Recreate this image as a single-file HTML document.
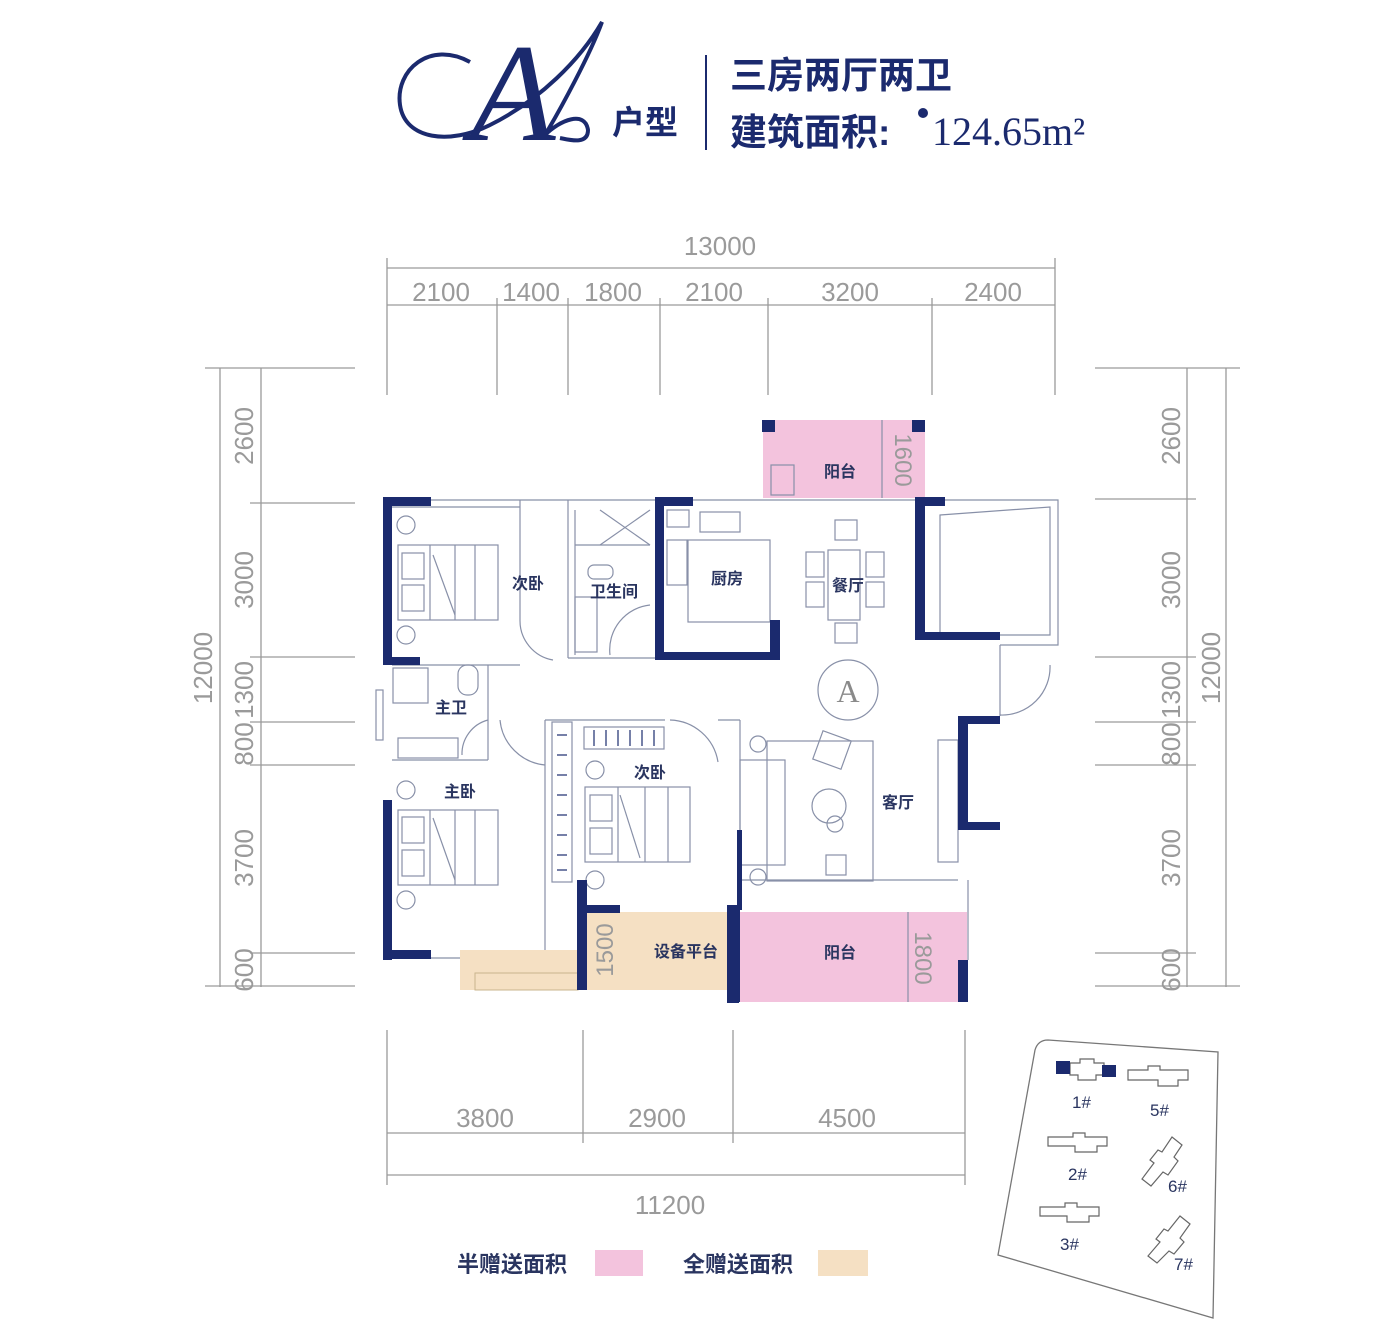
<!DOCTYPE html>
<html><head><meta charset="utf-8"><style>
html,body{margin:0;padding:0;background:#fff;}
svg{display:block;}
.d{font-family:"Liberation Sans Narrow","Liberation Sans",sans-serif;fill:#9a9a9a;font-size:26px;}
.r{font-family:"Liberation Sans","Noto Sans CJK SC",sans-serif;fill:#2a3560;font-size:16px;font-weight:bold;}
.n{fill:#1b2a6e;}
.g{stroke:#9a9a9a;stroke-width:1.3;fill:none;}
.f{stroke:#8890a8;stroke-width:1.2;fill:none;}
</style></head><body>
<svg width="1400" height="1336" viewBox="0 0 1400 1336" xmlns="http://www.w3.org/2000/svg">
<!-- Header -->
<path d="M470 62 C430 40 395 70 400 105 C405 140 450 145 490 125 C540 100 580 60 602 22 C590 55 560 110 545 135 C560 120 585 110 588 130 C588 145 570 140 560 138" fill="none" stroke="#1b2a6e" stroke-width="4"/>
<text x="470" y="140" font-family="Liberation Serif,serif" font-style="italic" font-size="140" fill="#1b2a6e">A</text>
<text x="612" y="134" font-family="'Liberation Sans','Noto Sans CJK SC',sans-serif" font-size="33" font-weight="bold" fill="#1b2a6e">户型</text>
<line x1="706" y1="55" x2="706" y2="150" stroke="#1b2a6e" stroke-width="2"/>
<text x="730" y="88" font-family="'Liberation Sans','Noto Sans CJK SC',sans-serif" font-size="37" font-weight="bold" fill="#1b2a6e">三房两厅两卫</text>
<text x="730" y="145" font-family="'Liberation Sans','Noto Sans CJK SC',sans-serif" font-size="37" font-weight="bold" fill="#1b2a6e">建筑面积:</text>
<circle cx="923" cy="113" r="5" fill="#1b2a6e"/>
<text x="932" y="145" font-family="'Liberation Serif',serif" font-size="40" fill="#1b2a6e">124.65m²</text>

<!-- top dims -->
<g class="g">
<line x1="387" y1="268" x2="1055" y2="268"/>
<line x1="387" y1="305" x2="1055" y2="305"/>
<line x1="387" y1="258" x2="387" y2="395"/>
<line x1="1055" y1="258" x2="1055" y2="395"/>
<line x1="497" y1="298" x2="497" y2="395"/>
<line x1="568" y1="298" x2="568" y2="395"/>
<line x1="660" y1="298" x2="660" y2="395"/>
<line x1="768" y1="298" x2="768" y2="395"/>
<line x1="932" y1="298" x2="932" y2="395"/>
<line x1="220" y1="368" x2="220" y2="987"/>
<line x1="261" y1="368" x2="261" y2="987"/>
<line x1="205" y1="368" x2="355" y2="368"/>
<line x1="250" y1="503" x2="355" y2="503"/>
<line x1="250" y1="657" x2="355" y2="657"/>
<line x1="250" y1="722" x2="355" y2="722"/>
<line x1="250" y1="765" x2="355" y2="765"/>
<line x1="250" y1="953" x2="355" y2="953"/>
<line x1="205" y1="986" x2="355" y2="986"/>
<line x1="1187" y1="368" x2="1187" y2="987"/>
<line x1="1226" y1="368" x2="1226" y2="987"/>
<line x1="1095" y1="368" x2="1240" y2="368"/>
<line x1="1095" y1="499" x2="1196" y2="499"/>
<line x1="1095" y1="657" x2="1196" y2="657"/>
<line x1="1095" y1="722" x2="1196" y2="722"/>
<line x1="1095" y1="765" x2="1196" y2="765"/>
<line x1="1095" y1="953" x2="1196" y2="953"/>
<line x1="1095" y1="986" x2="1240" y2="986"/>
<line x1="387" y1="1133" x2="965" y2="1133"/>
<line x1="387" y1="1175" x2="965" y2="1175"/>
<line x1="387" y1="1030" x2="387" y2="1185"/>
<line x1="583" y1="1030" x2="583" y2="1143"/>
<line x1="733" y1="1030" x2="733" y2="1143"/>
<line x1="965" y1="1030" x2="965" y2="1185"/>
</g>
<g class="d">
<text x="720" y="255" text-anchor="middle">13000</text>
<text x="441" y="301" text-anchor="middle">2100</text>
<text x="531" y="301" text-anchor="middle">1400</text>
<text x="613" y="301" text-anchor="middle">1800</text>
<text x="714" y="301" text-anchor="middle">2100</text>
<text x="850" y="301" text-anchor="middle">3200</text>
<text x="993" y="301" text-anchor="middle">2400</text>
<text x="485" y="1127" text-anchor="middle">3800</text>
<text x="657" y="1127" text-anchor="middle">2900</text>
<text x="847" y="1127" text-anchor="middle">4500</text>
<text x="670" y="1214" text-anchor="middle">11200</text>
<g transform="translate(253,0)">
<text transform="translate(0,436) rotate(-90)" text-anchor="middle">2600</text>
<text transform="translate(0,580) rotate(-90)" text-anchor="middle">3000</text>
<text transform="translate(0,690) rotate(-90)" text-anchor="middle">1300</text>
<text transform="translate(0,744) rotate(-90)" text-anchor="middle">800</text>
<text transform="translate(0,858) rotate(-90)" text-anchor="middle">3700</text>
<text transform="translate(0,970) rotate(-90)" text-anchor="middle">600</text>
</g>
<text transform="translate(212,668) rotate(-90)" text-anchor="middle">12000</text>
<g transform="translate(1180,0)">
<text transform="translate(0,436) rotate(-90)" text-anchor="middle">2600</text>
<text transform="translate(0,580) rotate(-90)" text-anchor="middle">3000</text>
<text transform="translate(0,690) rotate(-90)" text-anchor="middle">1300</text>
<text transform="translate(0,744) rotate(-90)" text-anchor="middle">800</text>
<text transform="translate(0,858) rotate(-90)" text-anchor="middle">3700</text>
<text transform="translate(0,970) rotate(-90)" text-anchor="middle">600</text>
</g>
<text transform="translate(1220,668) rotate(-90)" text-anchor="middle">12000</text>
</g>

<rect x="763" y="420" width="162" height="78" fill="#f3c3dd"/>
<rect x="727" y="912" width="240" height="90" fill="#f3c3dd"/>
<rect x="587" y="912" width="140" height="78" fill="#f5e0c3"/>
<rect x="460" y="950" width="118" height="40" fill="#f5e0c3"/>
<rect x="475" y="973" width="103" height="17" fill="none" stroke="#c9b58e"/>

<g class="f">
<polyline points="430,500 915,500"/>
<polyline points="945,500 1058,500 1058,645 1000,645"/>
<line x1="392" y1="507" x2="520" y2="507"/>
<line x1="520" y1="500" x2="520" y2="620"/>
<line x1="568" y1="500" x2="568" y2="658"/>
<line x1="568" y1="658" x2="655" y2="658"/>
<line x1="575" y1="510" x2="575" y2="655"/>
<line x1="575" y1="545" x2="650" y2="545"/>
<line x1="600" y1="510" x2="650" y2="545"/><line x1="650" y1="510" x2="600" y2="545"/>
<line x1="392" y1="665" x2="520" y2="665"/>
<line x1="488" y1="665" x2="488" y2="760"/>
<line x1="392" y1="760" x2="488" y2="760"/>
<line x1="545" y1="720" x2="545" y2="950"/>
<line x1="545" y1="720" x2="665" y2="720"/>
<line x1="718" y1="720" x2="740" y2="720"/>
<line x1="740" y1="720" x2="740" y2="830"/>
<line x1="740" y1="880" x2="958" y2="880"/>
<line x1="968" y1="880" x2="968" y2="960"/>
<line x1="1000" y1="645" x2="1000" y2="716"/>
<line x1="392" y1="958" x2="460" y2="958"/>
<rect x="376" y="690" width="7" height="50"/>
<path d="M520 620 A40 40 0 0 0 553 660"/>
<path d="M650 605 A45 45 0 0 0 610 655"/>
<path d="M488 720 A35 35 0 0 0 462 755"/>
<path d="M500 720 A50 50 0 0 0 545 765"/>
<path d="M670 720 A50 50 0 0 1 718 762"/>
<path d="M1050 665 A48 48 0 0 1 1000 715"/>
<rect x="398" y="545" width="100" height="75"/>
<line x1="430" y1="545" x2="430" y2="620"/><line x1="455" y1="545" x2="455" y2="620"/><line x1="475" y1="545" x2="475" y2="620"/>
<line x1="433" y1="555" x2="455" y2="615"/>
<rect x="402" y="553" width="22" height="26"/><rect x="402" y="585" width="22" height="26"/>
<circle cx="406" cy="525" r="9"/><circle cx="406" cy="635" r="9"/>
<rect x="398" y="810" width="100" height="75"/>
<line x1="430" y1="810" x2="430" y2="885"/><line x1="455" y1="810" x2="455" y2="885"/><line x1="475" y1="810" x2="475" y2="885"/>
<line x1="433" y1="818" x2="455" y2="880"/>
<rect x="402" y="817" width="22" height="26"/><rect x="402" y="850" width="22" height="26"/>
<circle cx="406" cy="790" r="9"/><circle cx="406" cy="900" r="9"/>
<rect x="585" y="787" width="105" height="75"/>
<line x1="618" y1="787" x2="618" y2="862"/><line x1="645" y1="787" x2="645" y2="862"/><line x1="668" y1="787" x2="668" y2="862"/>
<line x1="620" y1="795" x2="640" y2="858"/>
<rect x="590" y="795" width="22" height="26"/><rect x="590" y="828" width="22" height="26"/>
<circle cx="595" cy="770" r="9"/><circle cx="595" cy="880" r="9"/>
<rect x="552" y="722" width="20" height="160"/>
<rect x="584" y="727" width="80" height="22"/>
<rect x="393" y="668" width="35" height="35"/>
<rect x="458" y="665" width="20" height="30" rx="9"/>
<rect x="398" y="738" width="60" height="20"/>
<rect x="588" y="565" width="25" height="14" rx="6"/>
<rect x="575" y="597" width="22" height="55"/>
<rect x="667" y="510" width="22" height="17"/>
<rect x="700" y="512" width="40" height="20"/>
<rect x="667" y="540" width="20" height="45"/>
<rect x="688" y="540" width="82" height="82"/>
<rect x="828" y="550" width="32" height="70"/>
<rect x="835" y="520" width="22" height="20"/><rect x="835" y="623" width="22" height="20"/>
<rect x="806" y="552" width="18" height="25"/><rect x="806" y="582" width="18" height="25"/>
<rect x="866" y="552" width="18" height="25"/><rect x="866" y="582" width="18" height="25"/>
<path d="M940 515 L1050 507 L1050 635 L940 635 Z"/>
<circle cx="848" cy="690" r="30"/>
<rect x="767" y="741" width="106" height="140"/>
<rect x="740" y="760" width="45" height="105"/>
<rect x="817" y="735" width="30" height="30" transform="rotate(20 832 750)"/>
<circle cx="829" cy="806" r="17"/><circle cx="835" cy="824" r="8"/>
<rect x="826" y="855" width="20" height="20"/>
<circle cx="758" cy="744" r="8"/><circle cx="758" cy="877" r="8"/>
<rect x="938" y="740" width="20" height="122"/>
<rect x="771" y="465" width="23" height="30"/>
<line x1="882" y1="420" x2="882" y2="498"/>
<line x1="908" y1="912" x2="908" y2="1002"/>
</g>
<g stroke="#1b2a6e" stroke-width="1.2">
<line x1="557" y1="735" x2="567" y2="735"/><line x1="557" y1="755" x2="567" y2="755"/><line x1="557" y1="775" x2="567" y2="775"/><line x1="557" y1="795" x2="567" y2="795"/><line x1="557" y1="815" x2="567" y2="815"/><line x1="557" y1="835" x2="567" y2="835"/><line x1="557" y1="855" x2="567" y2="855"/><line x1="557" y1="870" x2="567" y2="870"/>
<line x1="594" y1="730" x2="594" y2="746"/><line x1="606" y1="730" x2="606" y2="746"/><line x1="618" y1="730" x2="618" y2="746"/><line x1="630" y1="730" x2="630" y2="746"/><line x1="642" y1="730" x2="642" y2="746"/><line x1="654" y1="730" x2="654" y2="746"/>
</g>

<g class="n">
<rect x="383" y="497" width="9" height="168"/><rect x="383" y="497" width="48" height="9"/><rect x="383" y="657" width="37" height="8"/>
<rect x="383" y="800" width="9" height="160"/><rect x="383" y="950" width="48" height="9"/>
<rect x="655" y="497" width="9" height="163"/><rect x="655" y="497" width="38" height="9"/><rect x="655" y="652" width="125" height="8"/><rect x="770" y="620" width="10" height="40"/>
<rect x="915" y="497" width="10" height="143"/><rect x="915" y="497" width="30" height="9"/><rect x="915" y="632" width="85" height="8"/>
<rect x="958" y="716" width="10" height="114"/><rect x="958" y="716" width="42" height="8"/><rect x="958" y="822" width="42" height="8"/>
<rect x="577" y="880" width="10" height="110"/><rect x="577" y="905" width="43" height="8"/>
<rect x="727" y="905" width="13" height="97"/><rect x="737" y="830" width="5" height="80"/><rect x="727" y="995" width="12" height="8"/>
<rect x="958" y="960" width="10" height="42"/>
<rect x="762" y="420" width="13" height="12"/><rect x="912" y="420" width="13" height="12"/>
</g>

<g class="r">
<text x="528" y="589" text-anchor="middle">次卧</text>
<text x="614" y="597" text-anchor="middle">卫生间</text>
<text x="727" y="584" text-anchor="middle">厨房</text>
<text x="848" y="591" text-anchor="middle">餐厅</text>
<text x="451" y="713" text-anchor="middle">主卫</text>
<text x="460" y="797" text-anchor="middle">主卧</text>
<text x="650" y="778" text-anchor="middle">次卧</text>
<text x="898" y="808" text-anchor="middle">客厅</text>
<text x="840" y="477" text-anchor="middle">阳台</text>
<text x="840" y="958" text-anchor="middle">阳台</text>
<text x="686" y="957" text-anchor="middle">设备平台</text>
</g>
<text x="848" y="702" text-anchor="middle" font-family="Liberation Serif,serif" font-size="32" fill="#8a8a8a">A</text>
<g class="d" style="font-size:24px">
<text transform="translate(895,460) rotate(90)" text-anchor="middle">1600</text>
<text transform="translate(613,950) rotate(-90)" text-anchor="middle">1500</text>
<text transform="translate(915,958) rotate(90)" text-anchor="middle">1800</text>
</g>

<text x="457" y="1272" font-family="'Liberation Sans','Noto Sans CJK SC',sans-serif" font-size="22" font-weight="bold" fill="#2a3560">半赠送面积</text>
<rect x="595" y="1250" width="48" height="26" fill="#f3c3dd"/>
<text x="683" y="1272" font-family="'Liberation Sans','Noto Sans CJK SC',sans-serif" font-size="22" font-weight="bold" fill="#2a3560">全赠送面积</text>
<rect x="818" y="1250" width="50" height="26" fill="#f5e0c3"/>

<path d="M1048 1040 L1218 1052 L1213 1318 L998 1255 L1035 1050 Q1038 1040 1048 1040 Z" fill="#fff" stroke="#777" stroke-width="1.3"/>
<g fill="none" stroke="#666" stroke-width="1.2">
<path d="M1070 1063 h10 v-4 h14 v4 h10 v12 h-8 v5 h-18 v-5 h-8 z"/>
<path d="M1128 1070 h20 v-4 h12 v4 h28 v10 h-10 v6 h-20 v-6 h-30 z"/>
<path d="M1048 1137 h25 v-4 h12 v4 h22 v9 h-10 v6 h-22 v-6 h-27 z"/>
<path d="M1040 1207 h25 v-4 h12 v4 h22 v9 h-10 v6 h-22 v-6 h-27 z"/>
<path d="M1172 1137 l10 8 l-8 12 l4 4 l-10 14 l-5 -3 l-12 14 l-9 -7 l12 -16 l-4 -3 l8 -10 l4 2 z"/>
<path d="M1180 1216 l10 8 l-10 14 l4 4 l-10 12 l-5 -3 l-12 12 l-9 -7 l12 -14 l-4 -3 l8 -10 l4 2 z"/>
</g>
<rect x="1056" y="1061" width="14" height="13" fill="#1b2a6e"/><rect x="1102" y="1065" width="14" height="12" fill="#1b2a6e"/>
<g font-family="Liberation Sans,sans-serif" font-size="17" fill="#2a3560">
<text x="1072" y="1108">1#</text><text x="1150" y="1116">5#</text>
<text x="1068" y="1180">2#</text><text x="1168" y="1192">6#</text>
<text x="1060" y="1250">3#</text><text x="1174" y="1270">7#</text>
</g>
</svg>
</body></html>
